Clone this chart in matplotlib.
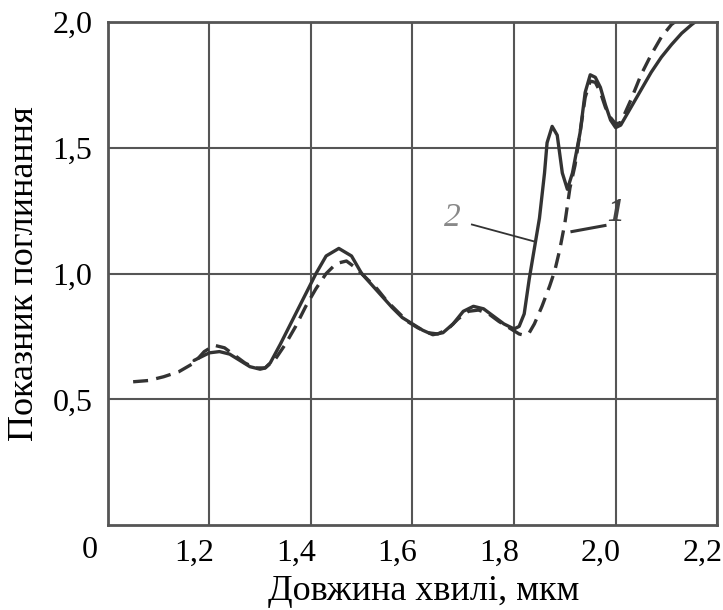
import matplotlib
matplotlib.use('Agg')
import matplotlib.pyplot as plt
import matplotlib.transforms as mtransforms
import numpy as np

plt.rcParams['font.family'] = ['Liberation Serif', 'DejaVu Serif']

# крива 2 (суцільна)
x2 = [1.17, 1.20, 1.22, 1.24, 1.26, 1.28, 1.30, 1.31, 1.32, 1.34, 1.36, 1.38, 1.40, 1.41,
      1.43, 1.455, 1.48, 1.50, 1.52, 1.54, 1.56, 1.58, 1.60, 1.62, 1.64, 1.66, 1.68, 1.70,
      1.72, 1.74, 1.76, 1.78, 1.80, 1.81, 1.82, 1.83, 1.84, 1.85, 1.86, 1.865, 1.875, 1.885,
      1.895, 1.905, 1.915, 1.93, 1.94, 1.95, 1.96, 1.97, 1.98, 1.99, 2.00, 2.01, 2.03, 2.05,
      2.07, 2.09, 2.11, 2.13, 2.15, 2.17]
y2 = [0.655, 0.685, 0.69, 0.68, 0.655, 0.63, 0.62, 0.625, 0.645, 0.72, 0.80, 0.88, 0.96, 1.0,
      1.07, 1.10, 1.07, 1.00, 0.955, 0.91, 0.865, 0.825, 0.80, 0.775, 0.757, 0.765, 0.80, 0.85,
      0.87, 0.86, 0.83, 0.80, 0.78, 0.79, 0.84, 0.98, 1.10, 1.22, 1.40, 1.52, 1.585, 1.55,
      1.40, 1.335, 1.40, 1.56, 1.72, 1.79, 1.78, 1.74, 1.67, 1.61, 1.58, 1.59, 1.66, 1.73,
      1.80, 1.86, 1.91, 1.955, 1.99, 2.02]

# крива 1 (штрихова)
x1 = [1.05, 1.08, 1.11, 1.14, 1.17, 1.19, 1.21, 1.23, 1.25, 1.27, 1.29, 1.31, 1.33, 1.35,
      1.37, 1.39, 1.41, 1.43, 1.45, 1.47, 1.49, 1.51, 1.53, 1.55, 1.57, 1.59, 1.61, 1.63,
      1.65, 1.67, 1.69, 1.71, 1.73, 1.75, 1.77, 1.79, 1.81, 1.82, 1.83, 1.84, 1.855, 1.87,
      1.88, 1.89, 1.90, 1.91, 1.92, 1.93, 1.94, 1.95, 1.96, 1.97, 1.98, 1.99, 2.00, 2.01,
      2.03, 2.05, 2.07, 2.09, 2.11, 2.13, 2.15]
y1 = [0.57, 0.575, 0.59, 0.61, 0.645, 0.69, 0.715, 0.705, 0.675, 0.645, 0.625, 0.625, 0.66, 0.72,
      0.79, 0.87, 0.94, 1.00, 1.04, 1.05, 1.02, 0.98, 0.94, 0.89, 0.85, 0.81, 0.785, 0.765,
      0.76, 0.78, 0.82, 0.85, 0.855, 0.84, 0.81, 0.785, 0.76, 0.755, 0.765, 0.80, 0.87, 0.95,
      1.01, 1.095, 1.20, 1.34, 1.43, 1.56, 1.70, 1.765, 1.76, 1.72, 1.66, 1.62, 1.595, 1.60,
      1.69, 1.79, 1.87, 1.94, 1.99, 2.02, 2.05]

xticks = [1.2, 1.4, 1.6, 1.8, 2.0, 2.2]
xlabels = ['1,2', '1,4', '1,6', '1,8', '2,0', '2,2']
yticks = [0.5, 1.0, 1.5, 2.0]
ylabels = ['0,5', '1,0', '1,5', '2,0']

fig = plt.figure(figsize=(7.23, 6.10), dpi=100)
ax = fig.add_axes([0.149, 0.139, 0.843, 0.825])

ax.plot(x2, y2, color='#333333', lw=2.4, solid_capstyle='round')
ax.plot(x1, y1, color='#333333', lw=2.4, dashes=(4.5, 2.5))

ax.set_xlim(1.0, 2.2)
ax.set_ylim(0, 2.0)
ax.set_xticks(xticks)
ax.set_xticklabels(xlabels, fontsize=23)
ax.set_yticks(yticks)
ax.set_yticklabels(ylabels, fontsize=23)
ax.tick_params(axis='x', length=0, pad=10)
ax.tick_params(axis='y', length=0, pad=11)
# підписи по x трохи зсунуті вліво, як в оригіналі
shift = mtransforms.ScaledTranslation(-0.15, 0, fig.dpi_scale_trans)
for lab in ax.get_xticklabels():
    lab.set_transform(lab.get_transform() + shift)
ax.grid(True, color='#555555', lw=1.5)
for s in ax.spines.values():
    s.set_color('#555555')
    s.set_linewidth(2)

# "0" у куті
ax.text(-0.03, -0.022, '0', transform=ax.transAxes, fontsize=23, ha='center', va='top')

ax.set_xlabel('Довжина хвилі, мкм', fontsize=26)
ax.xaxis.set_label_coords(0.518, -0.098)
ax.set_ylabel('Показник поглинання', fontsize=26, labelpad=8)

# позначки кривих
ax.text(1.678, 1.223, '2', fontsize=24, style='italic', color='#888888', ha='center', va='center')
ax.plot([1.717, 1.841], [1.195, 1.127], color='#333333', lw=1.3)
ax.text(1.999, 1.243, '1', fontsize=24, style='italic', weight='bold', color='#444444',
        ha='center', va='center')
ax.plot([1.914, 1.979], [1.167, 1.191], color='#333333', lw=2.2)

fig.savefig('out.png', dpi=100)
